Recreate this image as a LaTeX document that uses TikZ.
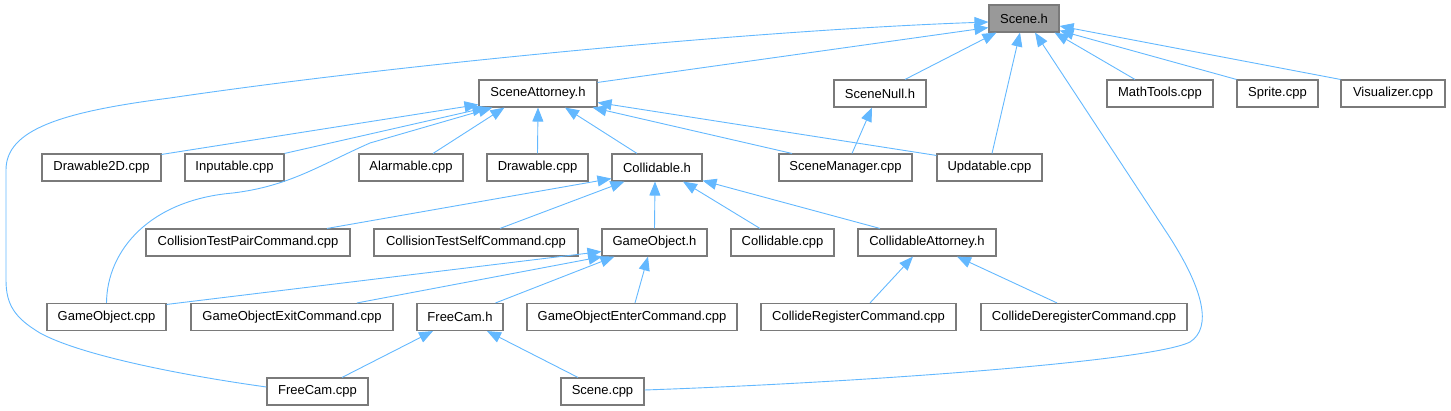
\documentclass[tikz,border=0pt]{standalone}
\usepackage{fontspec}
\setmainfont{Liberation Sans}
\usetikzlibrary{arrows.meta,calc}
\definecolor{edgecol}{HTML}{63B8FF}
\definecolor{boxline}{HTML}{7A7A7A}
\definecolor{mainfill}{HTML}{999999}
\begin{document}
\begin{tikzpicture}[x=1pt,y=-1pt,
  box/.style={draw=boxline, fill=white, line width=1.1pt, inner sep=0pt,
    minimum height=27pt, font=\fontsize{13}{15}\selectfont, text=black},
  edge/.style={draw=edgecol, line width=0.9pt,
    -{Triangle[length=14pt,width=11pt]}}]
\useasboundingbox (0,0) rectangle (1451,411);
% row 0
\node[box, fill=mainfill, minimum width=70pt] (scene) at (1024,18.5) {Scene.h};
% row 1
\node[box, minimum width=118pt] (sceneatt) at (538,93.5) {SceneAttorney.h};
\node[box, minimum width=92pt] (scenenull) at (880,93.5) {SceneNull.h};
\node[box, minimum width=106pt] (mathtools) at (1160,93.5) {MathTools.cpp};
\node[box, minimum width=81pt] (sprite) at (1277.5,93.5) {Sprite.cpp};
\node[box, minimum width=104pt] (visualizer) at (1393,93.5) {Visualizer.cpp};
% row 2
\node[box, minimum width=119pt] (drawable2d) at (101.5,167.5) {Drawable2D.cpp};
\node[box, minimum width=99pt] (inputable) at (234.5,167.5) {Inputable.cpp};
\node[box, minimum width=104pt] (alarmable) at (411,167.5) {Alarmable.cpp};
\node[box, minimum width=101pt] (drawable) at (537.5,167.5) {Drawable.cpp};
\node[box, minimum width=90pt] (collidableh) at (657,167.5) {Collidable.h};
\node[box, minimum width=133pt] (scenemanager) at (845.5,167.5) {SceneManager.cpp};
\node[box, minimum width=105pt] (updatable) at (989.5,167.5) {Updatable.cpp};
% row 3
\node[box, minimum width=204pt] (ctpair) at (248,242.5) {CollisionTestPairCommand.cpp};
\node[box, minimum width=204pt] (ctself) at (476,242.5) {CollisionTestSelfCommand.cpp};
\node[box, minimum width=105pt] (gameobjh) at (654.5,242.5) {GameObject.h};
\node[box, minimum width=103pt] (collidablecpp) at (782.5,242.5) {Collidable.cpp};
\node[box, minimum width=138pt] (collatt) at (927,242.5) {CollidableAttorney.h};
% row 4
\node[box, minimum width=119pt] (gameobjcpp) at (106.5,317) {GameObject.cpp};
\node[box, minimum width=202pt] (goexit) at (292,317) {GameObjectExitCommand.cpp};
\node[box, minimum width=86pt] (freecamh) at (460,317) {FreeCam.h};
\node[box, minimum width=210pt] (goenter) at (632,317) {GameObjectEnterCommand.cpp};
\node[box, minimum width=195pt] (colreg) at (858.5,317) {CollideRegisterCommand.cpp};
\node[box, minimum width=206pt] (coldereg) at (1084,317) {CollideDeregisterCommand.cpp};
% row 5
\node[box, minimum width=101pt] (freecamcpp) at (317.5,391.5) {FreeCam.cpp};
\node[box, minimum width=83pt] (scenecpp) at (602.5,391.5) {Scene.cpp};

% edges into Scene.h
\draw[edge] ($(sceneatt.north east)+(0,3)$) -- ($(scene.south west)+(0,-5)$);
\draw[edge] ($(freecamcpp.west)+(0,-4.5)$) .. controls (180,375) and (80,355) .. (40,333)
  .. controls (15,318) and (6,305) .. (6,280) -- (6,170)
  .. controls (6,130) and (60,112) .. (170,98)
  .. controls (400,64) and (760,30) .. ($(scene.west)+(0,3.5)$);
\draw[edge] ($(scenenull.north)+(25,0)$) -- ($(scene.south west)+(8,0)$);
\draw[edge] ($(updatable.north)+(2.5,0)$) -- ($(scene.south)+(-4,0)$);
\draw[edge] ($(scenecpp.east)+(0,-1.5)$) .. controls (850,383) and (1150,362) .. (1190,342)
  .. controls (1212,328) and (1205,290) .. (1165,230) -- ($(scene.south)+(11,0)$);
\draw[edge] ($(mathtools.north)+(-25,0)$) -- ($(scene.south east)+(-5,0)$);
\draw[edge] (sprite.north west) -- ($(scene.south east)+(0,-2)$);
\draw[edge] (visualizer.north west) -- ($(scene.east)+(0,7.5)$);

% edges into SceneAttorney.h
\draw[edge] ($(drawable2d.north east)+(0,1)$) -- ($(sceneatt.south west)+(0,-3)$);
\draw[edge] (inputable.north east) -- ($(sceneatt.south west)+(8,0)$);
\draw[edge] (gameobjcpp.north) .. controls (107,250) and (150,200) .. (233,193)
  .. controls (290,186) and (320,165) .. (370,143) -- ($(sceneatt.south west)+(14,0)$);
\draw[edge] ($(alarmable.north)+(22,0)$) -- ($(sceneatt.south west)+(26,0)$);
\draw[edge] (drawable.north) -- (sceneatt.south);
\draw[edge] ($(collidableh.north)+(-20,0)$) -- ($(sceneatt.south)+(27,0)$);
\draw[edge] ($(scenemanager.north)+(-53.5,0)$) -- ($(sceneatt.south east)+(-5,0)$);
\draw[edge] ($(updatable.north west)+(0,2)$) -- ($(sceneatt.south east)+(0,-5)$);

% SceneNull.h
\draw[edge] ($(scenemanager.north)+(6.5,0)$) -- ($(scenenull.south)+(-8,0)$);

% edges into Collidable.h
\draw[edge] ($(ctpair.north)+(79,0)$) -- ($(collidableh.south west)+(0,-3)$);
\draw[edge] ($(ctself.north)+(24,0)$) -- ($(collidableh.south west)+(13,0)$);
\draw[edge] (gameobjh.north) -- ($(collidableh.south)+(-2,0)$);
\draw[edge] ($(collidablecpp.north)+(-22.5,0)$) -- ($(collidableh.south)+(26,0)$);
\draw[edge] ($(collatt.north)+(-47,0)$) -- ($(collidableh.south east)+(0,-1)$);

% edges into GameObject.h
\draw[edge] ($(gameobjcpp.north east)+(0,1.5)$) -- ($(gameobjh.south west)+(0,-5)$);
\draw[edge] ($(goexit.north)+(65,0)$) -- ($(gameobjh.south west)+(1,0)$);
\draw[edge] ($(freecamh.north east)+(-8,0)$) -- ($(gameobjh.south west)+(13,0)$);
\draw[edge] ($(goenter.north)+(3,0)$) -- ($(gameobjh.south)+(-6.5,0)$);

% edges into CollidableAttorney.h
\draw[edge] ($(colreg.north)+(11.5,0)$) -- ($(collatt.south)+(-14,0)$);
\draw[edge] ($(coldereg.north)+(-27,0)$) -- ($(collatt.south)+(30,0)$);

% edges into FreeCam.h
\draw[edge] ($(freecamcpp.north)+(24.5,0)$) -- ($(freecamh.south)+(-27,0)$);
\draw[edge] ($(scenecpp.north)+(-24.5,0)$) -- ($(freecamh.south)+(27,0)$);
\end{tikzpicture}
\end{document}
